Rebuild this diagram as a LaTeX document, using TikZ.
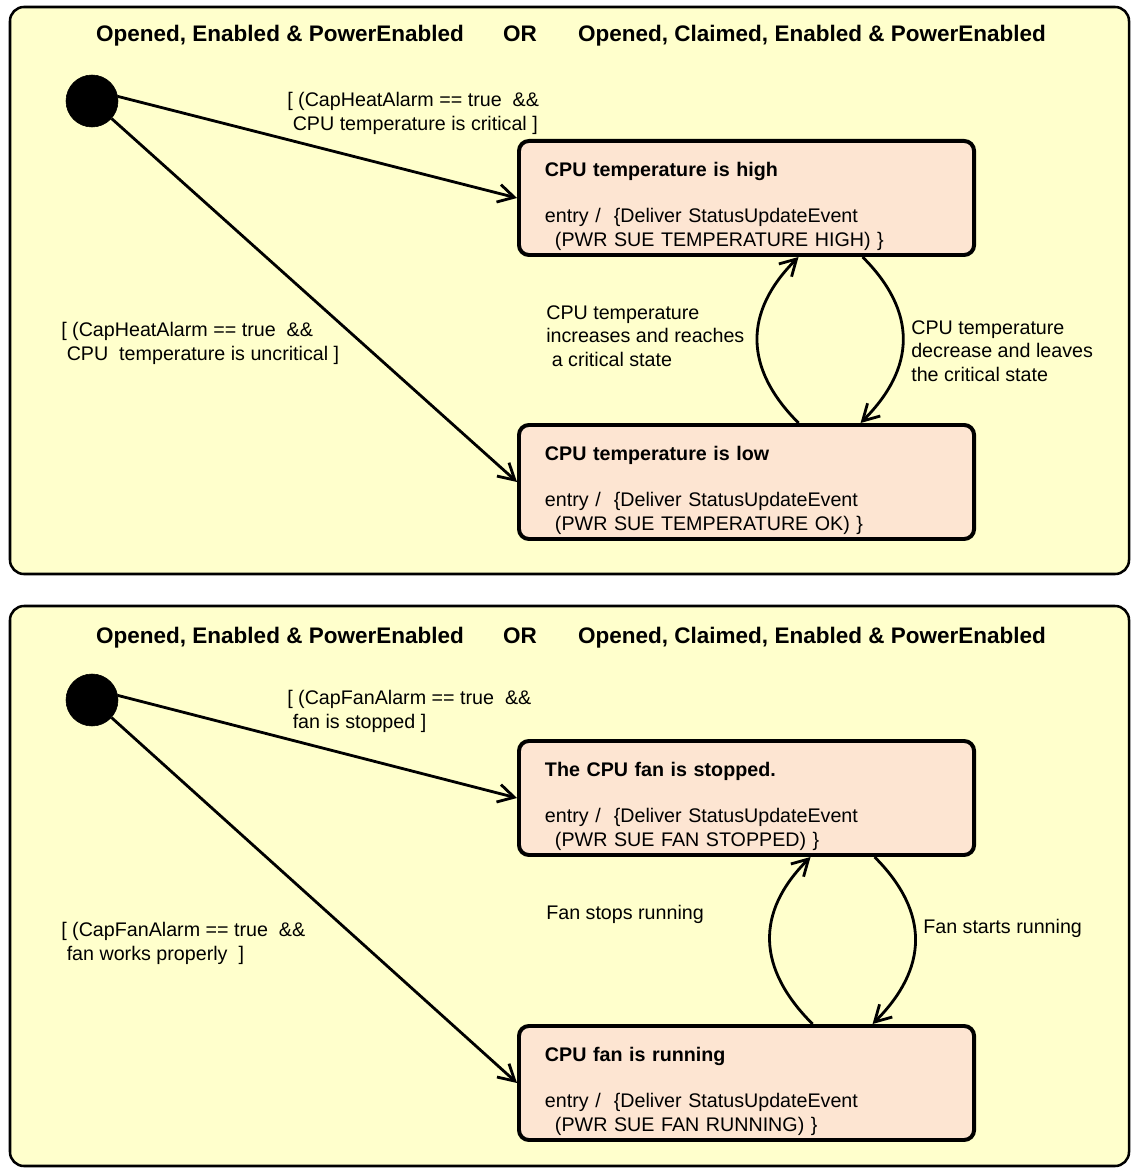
\documentclass[tikz,border=0pt]{standalone}
\usepackage{fontspec}
\setmainfont{Liberation Sans}
\usetikzlibrary{arrows.meta}
\definecolor{panel_yellow}{RGB}{255, 255, 204}
\definecolor{state_peach}{RGB}{253, 229, 210}
\tikzstyle{panel}=[draw=black,fill=panel_yellow,rounded corners=0.35cm,
  line width=1.8pt]
\tikzstyle{st}=[rectangle,rounded corners=0.25cm,fill=state_peach,draw=black,
  line width=2.8pt,anchor=north west,inner xsep=0.65cm,inner ysep=0pt,
  text width=10.075cm,minimum width=11.375cm,minimum height=2.85cm,
  align=left,font=\fontsize{14}{17}\selectfont]
\tikzstyle{init}=[circle,fill=black,draw=black,minimum size=1.3cm,inner sep=0pt]
\tikzstyle{lbl}=[anchor=north west,inner sep=0pt,align=left,
  font=\fontsize{14}{17}\selectfont]
\tikzstyle{hdr}=[anchor=base,inner sep=0pt,font=\fontsize{16}{19}\selectfont\bfseries]
\tikzstyle{tr}=[-{Straight Barb[length=0.4cm,width=0.45cm]},line width=2pt]
\newcommand{\toptitle}[1]{\rule{0pt}{0.875cm}\textbf{#1}\\[0.55cm]}
\newcommand{\lastline}[1]{\hspace*{0.25cm}#1\rule[-0.2cm]{0pt}{0.2cm}}

\begin{document}
\begin{tikzpicture}[x=0.025cm,y=0.025cm]
        \useasboundingbox (0,0) rectangle (1135,-1168);
        % temperature panel
        \draw [style=panel] (10,-7) rectangle (1129,-574);
        \node [style=hdr] (0) at (280,-42) {Opened, Enabled \& PowerEnabled};
        \node [style=hdr] (1) at (520,-42) {OR};
        \node [style=hdr] (2) at (812,-42) {Opened, Claimed, Enabled \& PowerEnabled};
        \node [style=init] (3) at (92,-101) {};
        \node [style=st] (4) at (517,-139) {\toptitle{CPU temperature is high}
          entry /\ \ \{Deliver StatusUpdateEvent\\
          \lastline{(PWR SUE TEMPERATURE HIGH) \}}};
        \node [style=st] (5) at (517,-423) {\toptitle{CPU temperature is low}
          entry /\ \ \{Deliver StatusUpdateEvent\\
          \lastline{(PWR SUE TEMPERATURE OK) \}}};
        \node [style=lbl] (6) at (287,-92) {[ (CapHeatAlarm == true\ \ \&\&\\
          \ CPU temperature is critical ]};
        \node [style=lbl] (7) at (61,-322) {[ (CapHeatAlarm == true\ \ \&\&\\
          \ CPU\ \ temperature is uncritical ]};
        \node [style=lbl] (8) at (546,-305) {CPU temperature\\
          increases and reaches\\ \ a critical state};
        \node [style=lbl] (9) at (911,-320) {CPU temperature\\
          decrease and leaves\\ the critical state};
        \draw [style=tr] (3.10) to (4.west);
        \draw [style=tr] (3) to (5.west);
        \draw [style=tr] ([xshift=1.3cm]5.north) to [out=135,in=225,looseness=1.2]
          ([xshift=1.3cm]4.south);
        \draw [style=tr] ([xshift=2.9cm]4.south) to [out=-45,in=45,looseness=1.2]
          ([xshift=2.85cm]5.north);
        % fan panel
        \draw [style=panel] (10,-606) rectangle (1129,-1166);
        \node [style=hdr] (10) at (280,-643) {Opened, Enabled \& PowerEnabled};
        \node [style=hdr] (11) at (520,-643) {OR};
        \node [style=hdr] (12) at (812,-643) {Opened, Claimed, Enabled \& PowerEnabled};
        \node [style=init] (13) at (92,-700) {};
        \node [style=st] (14) at (517,-739) {\toptitle{The CPU fan is stopped.}
          entry /\ \ \{Deliver StatusUpdateEvent\\
          \lastline{(PWR SUE FAN STOPPED) \}}};
        \node [style=st] (15) at (517,-1024) {\toptitle{CPU fan is running}
          entry /\ \ \{Deliver StatusUpdateEvent\\
          \lastline{(PWR SUE FAN RUNNING) \}}};
        \node [style=lbl] (16) at (287,-690) {[ (CapFanAlarm == true\ \ \&\&\\
          \ fan is stopped ]};
        \node [style=lbl] (17) at (61,-922) {[ (CapFanAlarm == true\ \ \&\&\\
          \ fan works properly\ \ ]};
        \node [style=lbl] (18) at (546,-905) {Fan stops running};
        \node [style=lbl] (19) at (923,-919) {Fan starts running};
        \draw [style=tr] (13.10) to (14.west);
        \draw [style=tr] (13) to (15.west);
        \draw [style=tr] ([xshift=1.65cm]15.north) to [out=135,in=225,looseness=1.2]
          ([xshift=1.6cm]14.south);
        \draw [style=tr] ([xshift=3.2cm]14.south) to [out=-45,in=45,looseness=1.2]
          ([xshift=3.15cm]15.north);
    \end{tikzpicture}
\end{document}
